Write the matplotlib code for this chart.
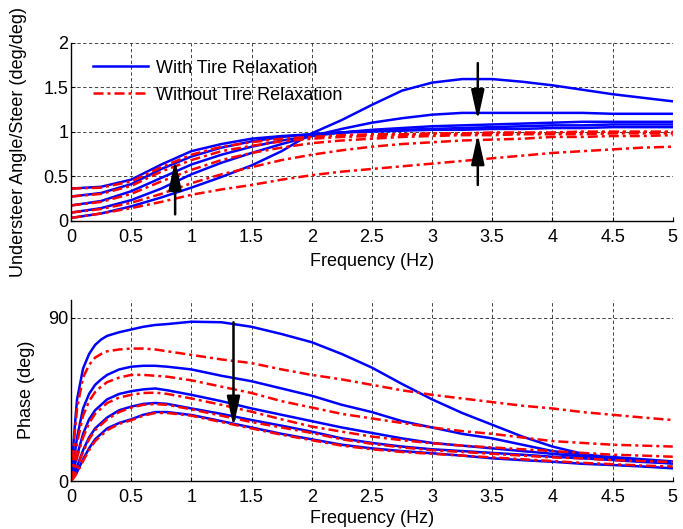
import numpy as np
import matplotlib.pyplot as plt

plt.rcParams['font.family'] = ['Liberation Sans', 'DejaVu Sans']
plt.rcParams['font.size'] = 13

# =============================================================================
# data
# =============================================================================

freq_mag = [0, 0.25, 0.5, 0.75, 1, 1.25, 1.5, 1.75, 2, 2.25, 2.5, 2.75,
            3, 3.25, 3.5, 3.75, 4, 4.25, 4.5, 4.75, 5]

# understeer angle / steer, with tire relaxation (blue)
mag_with_a = [0.36, 0.38, 0.46, 0.63, 0.78, 0.86, 0.92, 0.95, 0.97, 0.99, 1.00,
              1.01, 1.02, 1.02, 1.03, 1.03, 1.04, 1.04, 1.05, 1.05, 1.05]
mag_with_b = [0.27, 0.31, 0.41, 0.58, 0.72, 0.82, 0.89, 0.94, 0.97, 0.99, 1.01,
              1.02, 1.03, 1.04, 1.05, 1.06, 1.07, 1.07, 1.08, 1.08, 1.08]
mag_with_c = [0.17, 0.22, 0.33, 0.48, 0.63, 0.74, 0.83, 0.90, 0.95, 0.99, 1.02,
              1.04, 1.06, 1.07, 1.08, 1.09, 1.10, 1.11, 1.11, 1.11, 1.11]
mag_with_d = [0.09, 0.14, 0.23, 0.36, 0.52, 0.65, 0.76, 0.86, 0.95, 1.03, 1.10,
              1.15, 1.19, 1.21, 1.21, 1.21, 1.21, 1.21, 1.20, 1.20, 1.20]
mag_with_e = [0.03, 0.08, 0.16, 0.26, 0.37, 0.49, 0.62, 0.78, 0.98, 1.13, 1.30,
              1.46, 1.55, 1.59, 1.59, 1.56, 1.52, 1.47, 1.42, 1.38, 1.34]

# without tire relaxation (red)
mag_wo_a = [0.36, 0.37, 0.44, 0.60, 0.74, 0.83, 0.88, 0.92, 0.94, 0.96, 0.97,
            0.97, 0.98, 0.98, 0.99, 0.99, 0.99, 1.00, 1.00, 1.00, 1.00]
mag_wo_b = [0.27, 0.30, 0.39, 0.55, 0.68, 0.78, 0.84, 0.89, 0.92, 0.94, 0.95,
            0.96, 0.97, 0.97, 0.98, 0.98, 0.98, 0.99, 0.99, 0.99, 0.99]
mag_wo_c = [0.17, 0.21, 0.30, 0.44, 0.57, 0.68, 0.76, 0.82, 0.87, 0.90, 0.92,
            0.94, 0.95, 0.96, 0.96, 0.97, 0.97, 0.97, 0.98, 0.98, 0.98]
mag_wo_d = [0.09, 0.13, 0.20, 0.30, 0.42, 0.52, 0.60, 0.68, 0.74, 0.79, 0.83,
            0.86, 0.88, 0.90, 0.91, 0.92, 0.94, 0.94, 0.95, 0.95, 0.96]
mag_wo_e = [0.03, 0.08, 0.14, 0.21, 0.29, 0.35, 0.40, 0.46, 0.51, 0.55, 0.58,
            0.61, 0.64, 0.67, 0.70, 0.73, 0.76, 0.78, 0.80, 0.82, 0.83]

freq_ph = [0, 0.025, 0.05, 0.1, 0.15, 0.2, 0.25, 0.3, 0.4, 0.5, 0.6, 0.7, 0.8,
           1.0, 1.25, 1.5, 1.75, 2.0, 2.25, 2.5, 2.75, 3.0, 3.25, 3.5, 3.75,
           4.0, 4.25, 4.5, 4.75, 5.0]

# phase (deg), with tire relaxation (blue)
ph_with_a = [0, 25, 45, 62, 70, 75, 78, 80, 82, 83.5, 85, 86, 86.5, 87.8, 87.5,
             85, 81, 76.5, 70, 62.5, 53.5, 45, 37.5, 31, 24.5, 19, 15, 12.5, 11, 9.7]
ph_with_b = [0, 12, 24, 40, 48, 53, 56, 58.5, 61.5, 63, 63.5, 63.5, 63, 61.5, 58,
             55, 51, 47, 42, 38, 33, 29.5, 26, 23.5, 20, 16.5, 14.5, 13.2, 12, 10.8]
ph_with_c = [0, 7, 14, 26, 34, 39, 42, 45, 48, 49.5, 50.5, 51, 50, 47.5, 44,
             40, 36.5, 33, 29.5, 26.5, 23.5, 21, 19.5, 18, 16.5, 15, 13.5, 12.5, 11, 10]
ph_with_d = [0, 4, 8, 17, 24, 29, 32, 35, 39, 41, 42.5, 43, 42.5, 40, 37,
             33.6, 30.5, 27.2, 23.5, 21, 19, 17.5, 16.5, 15.5, 14.5, 13.4, 12.5, 11.6, 10.5, 9.7]
ph_with_e = [0, 2.5, 5, 12, 18, 23, 26, 29, 32, 34, 36.5, 38, 38, 36.4, 33,
             29.5, 26, 23, 20, 18, 16.5, 15.3, 14, 12.5, 11.5, 10.6, 9.5, 8.8, 8, 7]

# phase (deg), without tire relaxation (red)
ph_wo_a = [0, 22, 40, 57, 64, 68, 70, 71.5, 72.5, 73, 73, 72.5, 71.5, 69.5, 67,
           65, 61.5, 58.5, 56, 53, 50, 47.5, 45.5, 43.5, 41.5, 40, 38, 36.5, 35, 33.6]
ph_wo_b = [0, 10, 21, 36, 44, 49, 52, 54.5, 57, 58.5, 58.5, 58, 57.5, 55.5, 52,
           48.5, 44, 40.5, 37, 34.5, 32, 29.5, 27.5, 26, 24, 22, 21, 20, 19.5, 19]
ph_wo_c = [0, 6, 13, 24, 32, 37, 40, 43, 46, 47.5, 48.5, 48.7, 48, 45.5, 42,
           38.2, 34, 30, 27.2, 24.5, 22.5, 20.8, 19.5, 18.5, 17.5, 16.5, 15.5, 14.5, 14, 13.4]
ph_wo_d = [0, 3.5, 7.5, 16, 23, 28, 31, 34, 38, 40.5, 42, 42.4, 42, 39.5, 36,
           32.5, 29.5, 26.5, 23, 20.5, 18.5, 17, 16, 15, 14, 13, 12.5, 11.5, 11, 10.5]
ph_wo_e = [0, 2, 4.5, 11, 17, 22, 25, 28, 31.5, 33.5, 36, 37.5, 37.5, 36, 32.5,
           29, 25.5, 22.5, 19.5, 17.5, 16, 15, 14, 13, 12, 11, 10, 9.3, 8.5, 8]

mag_with = [mag_with_a, mag_with_b, mag_with_c, mag_with_d, mag_with_e]
mag_wo = [mag_wo_a, mag_wo_b, mag_wo_c, mag_wo_d, mag_wo_e]
ph_with = [ph_with_a, ph_with_b, ph_with_c, ph_with_d, ph_with_e]
ph_wo = [ph_wo_a, ph_wo_b, ph_wo_c, ph_wo_d, ph_wo_e]

x_ticks = [0, 0.5, 1, 1.5, 2, 2.5, 3, 3.5, 4, 4.5, 5]
x_ticklabels = ['0', '0.5', '1', '1.5', '2', '2.5', '3', '3.5', '4', '4.5', '5']

# =============================================================================
# figure
# =============================================================================

BLUE = (0, 0, 1)
RED = (1, 0, 0)
LW = 1.8
DASHDOT = [4, 1.6, 1.2, 1.6]

fig = plt.figure(figsize=(6.83, 5.29), dpi=100)
ax1 = fig.add_axes([0.104, 0.583, 0.881, 0.3365])
ax2 = fig.add_axes([0.104, 0.0907, 0.881, 0.343])


def style_axes(ax):
    for s in ['top', 'right']:
        ax.spines[s].set_visible(False)
    for s in ['left', 'bottom']:
        ax.spines[s].set_linewidth(1.0)
    ax.grid(True, color='k', linestyle=(0, (4, 3)), linewidth=0.6, alpha=0.85)
    ax.set_axisbelow(True)
    ax.tick_params(direction='in', length=3, width=0.8)
    ax.tick_params(axis='x', pad=6)
    ax.tick_params(axis='y', pad=2)
    ax.set_xlim(0, 5)
    ax.set_xticks(x_ticks)
    ax.set_xticklabels(x_ticklabels)


# --- top: understeer angle / steer ---
for i, y in enumerate(mag_with):
    ax1.plot(freq_mag, y, color=BLUE, lw=LW,
             label='With Tire Relaxation' if i == 0 else None)
for i, y in enumerate(mag_wo):
    ax1.plot(freq_mag, y, color=RED, lw=LW, dashes=DASHDOT,
             label='Without Tire Relaxation' if i == 0 else None)

style_axes(ax1)
ax1.set_ylim(0, 2)
ax1.set_yticks([0, 0.5, 1, 1.5, 2])
ax1.set_yticklabels(['0', '0.5', '1', '1.5', '2'])
ax1.set_xlabel('Frequency (Hz)')
ax1.set_ylabel('Understeer Angle/Steer (deg/deg)')
ax1.xaxis.set_label_coords(0.5, -0.18)
ax1.yaxis.set_label_coords(-0.073, 0.44)

arrow = dict(arrowstyle='-|>,head_length=1.0,head_width=0.22', color='k',
             lw=1.8, mutation_scale=18, shrinkA=0, shrinkB=0)
ax1.annotate('', xy=(0.865, 0.68), xytext=(0.865, 0.07), arrowprops=arrow)
ax1.annotate('', xy=(3.38, 1.13), xytext=(3.38, 1.77), arrowprops=arrow)
ax1.annotate('', xy=(3.38, 0.97), xytext=(3.38, 0.40), arrowprops=arrow)

ax1.legend(loc='upper left', bbox_to_anchor=(0.025, 0.945), frameon=False,
           handlelength=3.05, handletextpad=0.4, labelspacing=0.55,
           borderaxespad=0, fontsize=13)

# --- bottom: phase ---
for y in ph_with:
    ax2.plot(freq_ph, y, color=BLUE, lw=LW)
for y in ph_wo:
    ax2.plot(freq_ph, y, color=RED, lw=LW, dashes=DASHDOT)

style_axes(ax2)
ax2.set_ylim(0, 100)
ax2.set_yticks([0, 90])
ax2.set_xlabel('Frequency (Hz)')
ax2.set_ylabel('Phase (deg)')
ax2.xaxis.set_label_coords(0.5, -0.16)
ax2.yaxis.set_label_coords(-0.06, 0.5)

ax2.annotate('', xy=(1.35, 30), xytext=(1.35, 87.5), arrowprops=arrow)

plt.savefig('out.png', dpi=100)
plt.close()
